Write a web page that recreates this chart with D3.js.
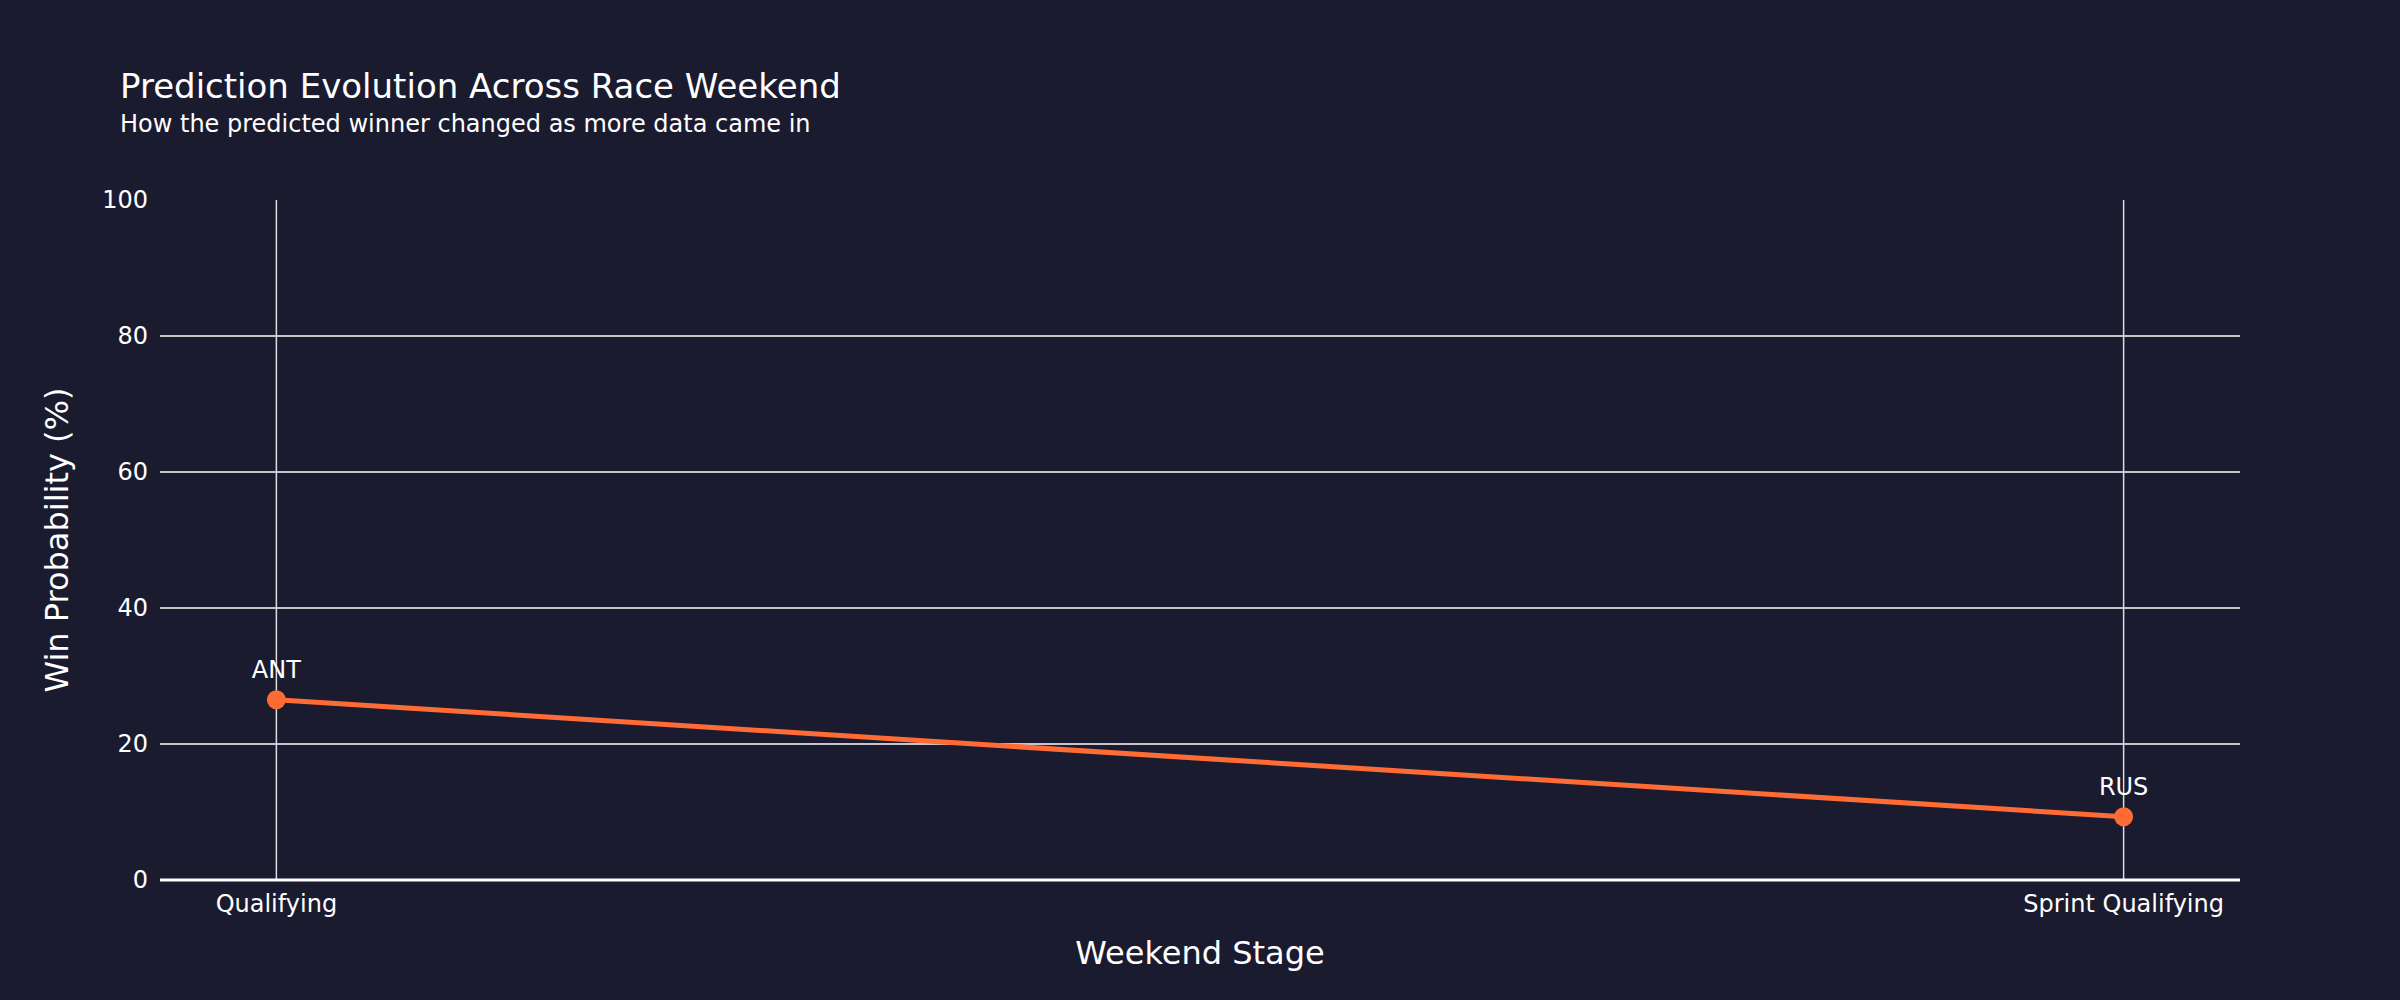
<!DOCTYPE html>
<html>
<head>
<meta charset="utf-8">
<script src="https://cdn.jsdelivr.net/npm/d3@7"></script>
<style>
  body { margin: 0; background: #1b1b2f; }
  text { font-family: "DejaVu Sans", Verdana, sans-serif; fill: #fff; }
</style>
</head>
<body>
<svg id="chart"></svg>
<script>
// data
const stages = ["Qualifying", "Sprint Qualifying"];
const winProb = [26.5, 9.3];
const leaders = ["ANT", "RUS"];
const yTicks = [0, 20, 40, 60, 80, 100];

const W = 2400, H = 1000;
const margin = {top: 200, right: 160, bottom: 120, left: 160};
const width = W - margin.left - margin.right,
      height = H - margin.top - margin.bottom;

const svg = d3.select("#chart").attr("width", W).attr("height", H);
svg.append("rect").attr("width", W).attr("height", H).attr("fill", "#1b1b2f");

svg.append("text").attr("x", 120).attr("y", 98).attr("font-size", 34).text("Prediction Evolution Across Race Weekend");
svg.append("text").attr("x", 120).attr("y", 132).attr("font-size", 24).text("How the predicted winner changed as more data came in");

const g = svg.append("g").attr("transform", `translate(${margin.left},${margin.top})`);

const x = d3.scalePoint().domain(stages).range([0, width]).padding(0.063);
const y = d3.scaleLinear().domain([0, 100]).range([height, 0]);

// gridlines
g.selectAll(".hgrid").data(yTicks.filter(d => d > 0 && d < 100)).enter().append("line")
  .attr("x1", 0).attr("x2", width).attr("y1", d => y(d)).attr("y2", d => y(d))
  .attr("stroke", "#fff").attr("stroke-width", 1.5);
g.selectAll(".vgrid").data(stages).enter().append("line")
  .attr("x1", d => x(d)).attr("x2", d => x(d)).attr("y1", 0).attr("y2", height)
  .attr("stroke", "#ddd").attr("stroke-width", 1.5);

// y axis labels
g.selectAll(".ytick").data(yTicks).enter().append("text")
  .attr("x", -12).attr("y", d => y(d)).attr("dy", "0.35em")
  .attr("text-anchor", "end").attr("font-size", 24).text(d => d);

// x axis
g.append("line").attr("x1", 0).attr("x2", width).attr("y1", height).attr("y2", height)
  .attr("stroke", "#fff").attr("stroke-width", 3);
g.selectAll(".xtick").data(stages).enter().append("text")
  .attr("x", d => x(d)).attr("y", height + 32).attr("text-anchor", "middle")
  .attr("font-size", 24).text(d => d);

// axis titles
svg.append("text").attr("x", margin.left + width / 2).attr("y", 964)
  .attr("text-anchor", "middle").attr("font-size", 32).text("Weekend Stage");
svg.append("text").attr("transform", `translate(68,${margin.top + height / 2}) rotate(-90)`)
  .attr("text-anchor", "middle").attr("font-size", 32).text("Win Probability (%)");

// line + markers
const pts = stages.map((s, i) => ({s, v: winProb[i], lab: leaders[i]}));
g.append("path").datum(pts)
  .attr("d", d3.line().x(d => x(d.s)).y(d => y(d.v)))
  .attr("fill", "none").attr("stroke", "#ff6b35").attr("stroke-width", 5);
g.selectAll(".dot").data(pts).enter().append("circle")
  .attr("cx", d => x(d.s)).attr("cy", d => y(d.v)).attr("r", 9.5).attr("fill", "#ff6b35");
g.selectAll(".lab").data(pts).enter().append("text")
  .attr("x", d => x(d.s)).attr("y", d => y(d.v) - 22).attr("text-anchor", "middle")
  .attr("font-size", 24).text(d => d.lab);
</script>
</body>
</html>
